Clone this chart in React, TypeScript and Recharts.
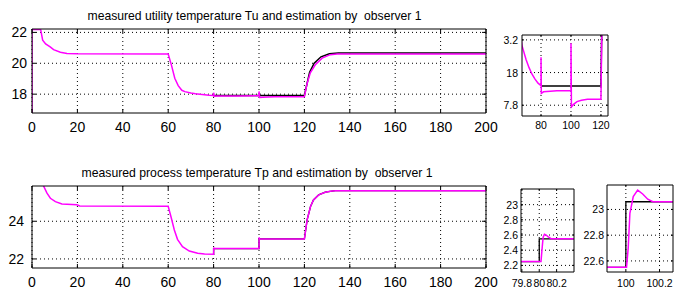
import { LineChart, Line, XAxis, YAxis, CartesianGrid } from 'recharts';

type Pt = [number, number];

const FONT = '"Liberation Sans", Arial, sans-serif';
const MAGENTA = '#ff00ff';

// axis ticks
const mainTimeTicks = [0, 20, 40, 60, 80, 100, 120, 140, 160, 180, 200];
const tuTicks = [18, 20, 22];
const tpTicks = [22, 24];
const zoomTuTimeTicks = [80, 100, 120];
const zoomTuTicks = [17.8, 18, 18.2];
const zoomTuTickLabels = ['7.8', '18', '3.2'];
const step80TimeTicks = [79.8, 80, 80.2];
const step80Ticks = [22.2, 22.4, 22.6, 22.8, 23];
const step80TickLabels = ['2.2', '2.4', '2.6', '2.8', '23'];
const step100TimeTicks = [100, 100.2];
const step100Ticks = [22.6, 22.8, 23];

// utility temperature Tu: estimation by observer 1 (magenta) and measurement (black)
const tuEstimated: Pt[] = [
  [0, 16.0], [0, 22.19], [3.8, 22.19], [4.7, 21.5], [6, 21.25], [8, 21.06], [9.5, 20.88],
  [12.5, 20.72], [15.4, 20.64], [20, 20.61], [60, 20.6], [61.4, 19.9], [62.9, 19.03],
  [64.4, 18.55], [66, 18.25], [67.3, 18.165], [70, 18.08], [72, 18.03], [74, 17.99],
  [76, 17.96], [78, 17.935], [80, 17.92], [80, 18.094], [80.2, 17.873], [81.7, 17.882],
  [90.6, 17.888], [100, 17.89], [100, 18.18], [100.3, 17.79], [101.7, 17.805], [104, 17.822],
  [107, 17.83], [111, 17.836], [120, 17.836], [121.1, 18.64], [122.6, 19.38], [124.8, 19.9],
  [127.8, 20.33], [131.4, 20.56], [134.4, 20.6], [200, 20.6],
];
const tuMeasured: Pt[] = [
  [80, 17.917], [120, 17.917], [121.1, 18.64], [122.3, 19.42], [124.3, 20.0], [127.3, 20.42],
  [131, 20.62], [135, 20.66], [200, 20.66],
];

// process temperature Tp: estimation by observer 1 (magenta) and measurement (black)
const tpEstimated: Pt[] = [
  [0, 27.5], [4.5, 26.2], [5.1, 25.87], [6.6, 25.49], [8.1, 25.22], [10.3, 25.04], [13.2, 24.92],
  [19.8, 24.87], [21, 24.81], [60, 24.8], [60.1, 24.74], [61.2, 24.25], [62.7, 23.54],
  [64.1, 23.04], [66.3, 22.65], [69.3, 22.42], [73, 22.3], [76, 22.26], [80.02, 22.25],
  [80.035, 22.45], [80.045, 22.57], [80.06, 22.61], [80.08, 22.6], [80.1, 22.58], [80.14, 22.55],
  [100.004, 22.55], [100.014, 22.7], [100.024, 22.97], [100.044, 23.1], [100.07, 23.15],
  [100.1, 23.12], [100.13, 23.08], [100.16, 23.06], [120, 23.06], [121.2, 24.07], [122.7, 24.78],
  [124, 25.13], [126.3, 25.4], [129.2, 25.54], [131.4, 25.59], [133.6, 25.62], [200, 25.62],
];
const tpMeasured: Pt[] = [
  [79.7, 22.25], [80, 22.25], [80, 22.55], [100, 22.55], [100, 23.06], [120, 23.06],
  [121.2, 24.07], [122.7, 24.78], [124, 25.13], [126.3, 25.4], [129.2, 25.54], [131.4, 25.59],
  [133.6, 25.62], [200, 25.62],
];

interface Series { data: Pt[]; color: string; width: number }

interface PanelProps {
  left: number; top: number; width: number; height: number;
  xDomain: [number, number]; yDomain: [number, number];
  xTicks: number[]; yTicks: number[];
  xLabels?: string[]; yLabels?: string[];
  fontSize: number; xLabelOffset: number; yLabelGap: number; tickLen: number;
  series: Series[];
}

// space round the frame; the axes take 1px of it on each side
const PAD = { top: 6, right: 16, bottom: 26, left: 44 };

function Panel(p: PanelProps) {
  const labelOf = (ticks: number[], labels: string[] | undefined, v: number) => {
    const i = ticks.indexOf(v);
    return labels && i >= 0 ? labels[i] : String(v);
  };

  const BottomTick = (t: any) => (
    <g>
      <line x1={t.x} x2={t.x} y1={t.y} y2={t.y - p.tickLen} stroke="#000" />
      <text x={t.x} y={t.y + p.xLabelOffset} textAnchor="middle" dominantBaseline="central"
        fontFamily={FONT} fontSize={p.fontSize} fill="#000">
        {labelOf(p.xTicks, p.xLabels, t.payload.value)}
      </text>
    </g>
  );
  const LeftTick = (t: any) => (
    <g>
      <line x1={t.x} x2={t.x + p.tickLen} y1={t.y} y2={t.y} stroke="#000" />
      <text x={t.x - p.yLabelGap} y={t.y} textAnchor="end" dominantBaseline="central"
        fontFamily={FONT} fontSize={p.fontSize} fill="#000">
        {labelOf(p.yTicks, p.yLabels, t.payload.value)}
      </text>
    </g>
  );
  const TopTick = (t: any) => (
    <line x1={t.x} x2={t.x} y1={t.y} y2={t.y + p.tickLen} stroke="#000" />
  );
  const RightTick = (t: any) => (
    <line x1={t.x} x2={t.x - p.tickLen} y1={t.y} y2={t.y} stroke="#000" />
  );

  return (
    <div style={{ position: 'absolute', left: p.left - PAD.left, top: p.top - PAD.top }}>
      <LineChart
        width={p.width + PAD.left + PAD.right}
        height={p.height + PAD.top + PAD.bottom}
        margin={{ top: PAD.top - 1, right: PAD.right - 1, bottom: PAD.bottom - 1, left: PAD.left - 1 }}
      >
        <CartesianGrid stroke="#000" strokeDasharray="1 3" horizontalValues={p.yTicks} verticalValues={p.xTicks} />
        <XAxis dataKey="x" type="number" domain={p.xDomain} ticks={p.xTicks} allowDataOverflow
          height={1} interval={0} tickSize={0} tickMargin={0} tickLine={false}
          axisLine={{ stroke: '#000' }} tick={BottomTick} />
        <XAxis xAxisId="top" orientation="top" dataKey="x" type="number" domain={p.xDomain} ticks={p.xTicks}
          allowDataOverflow height={1} interval={0} tickSize={0} tickMargin={0} tickLine={false}
          axisLine={{ stroke: '#000' }} tick={TopTick} />
        <YAxis type="number" domain={p.yDomain} ticks={p.yTicks} allowDataOverflow
          width={1} interval={0} tickSize={0} tickMargin={0} tickLine={false}
          axisLine={{ stroke: '#000' }} tick={LeftTick} />
        <YAxis yAxisId="right" orientation="right" type="number" domain={p.yDomain} ticks={p.yTicks}
          allowDataOverflow width={1} interval={0} tickSize={0} tickMargin={0} tickLine={false}
          axisLine={{ stroke: '#000' }} tick={RightTick} />
        {p.series.map((s, i) => (
          <Line key={i} data={s.data.map(([x, y]) => ({ x, y }))} dataKey="y" type="linear"
            stroke={s.color} strokeWidth={s.width} dot={false} activeDot={false}
            isAnimationActive={false} />
        ))}
      </LineChart>
    </div>
  );
}

function Title({ text, cx, cy, width }: { text: string; cx: number; cy: number; width: number }) {
  return (
    <svg width={681} height={24} style={{ position: 'absolute', left: 0, top: cy - 12 }}>
      <text x={cx} y={12} textAnchor="middle" dominantBaseline="central" fontFamily={FONT}
        fontSize={13} textLength={width} lengthAdjust="spacingAndGlyphs" style={{ whiteSpace: 'pre' }}>
        {text}
      </text>
    </svg>
  );
}

export default function App() {
  // measurement drawn first, estimation on top
  const tuSeries: Series[] = [
    { data: tuMeasured, color: '#000', width: 1.5 },
    { data: tuEstimated, color: MAGENTA, width: 1.5 },
  ];
  const tpSeries: Series[] = [
    { data: tpMeasured, color: '#000', width: 1.3 },
    { data: tpEstimated, color: MAGENTA, width: 1.5 },
  ];

  return (
    <div style={{ position: 'absolute', left: 0, top: 0, width: 681, height: 293, background: '#fff', overflow: 'hidden' }}>
      <Title text="measured utility temperature Tu and estimation by  observer 1" cx={254.5} cy={15} width={334} />
      <Title text="measured process temperature Tp and estimation by  observer 1" cx={257} cy={171.5} width={351} />

      <Panel left={32} top={29} width={454} height={84} xDomain={[0, 200]} yDomain={[16.78, 22.22]}
        xTicks={mainTimeTicks} yTicks={tuTicks} fontSize={14} xLabelOffset={14} yLabelGap={5} tickLen={4}
        series={tuSeries} />
      <Panel left={32} top={186} width={454} height={82} xDomain={[0, 200]} yDomain={[21.52, 25.87]}
        xTicks={mainTimeTicks} yTicks={tpTicks} fontSize={14} xLabelOffset={14} yLabelGap={8} tickLen={4}
        series={tpSeries} />

      <Panel left={522} top={35} width={86} height={81} xDomain={[67.3, 124.7]} yDomain={[17.734, 18.23]}
        xTicks={zoomTuTimeTicks} yTicks={zoomTuTicks} yLabels={zoomTuTickLabels} fontSize={10.5}
        xLabelOffset={9} yLabelGap={4} tickLen={2} series={tuSeries} />
      <Panel left={521} top={189} width={53} height={83} xDomain={[79.79, 80.4]} yDomain={[22.113, 23.206]}
        xTicks={step80TimeTicks} yTicks={step80Ticks} yLabels={step80TickLabels} fontSize={10.5}
        xLabelOffset={11} yLabelGap={3} tickLen={2} series={tpSeries} />
      <Panel left={607} top={185} width={66} height={87} xDomain={[99.888, 100.28]} yDomain={[22.514, 23.19]}
        xTicks={step100TimeTicks} yTicks={step100Ticks} fontSize={10.5}
        xLabelOffset={11} yLabelGap={3} tickLen={2} series={tpSeries} />
    </div>
  );
}
